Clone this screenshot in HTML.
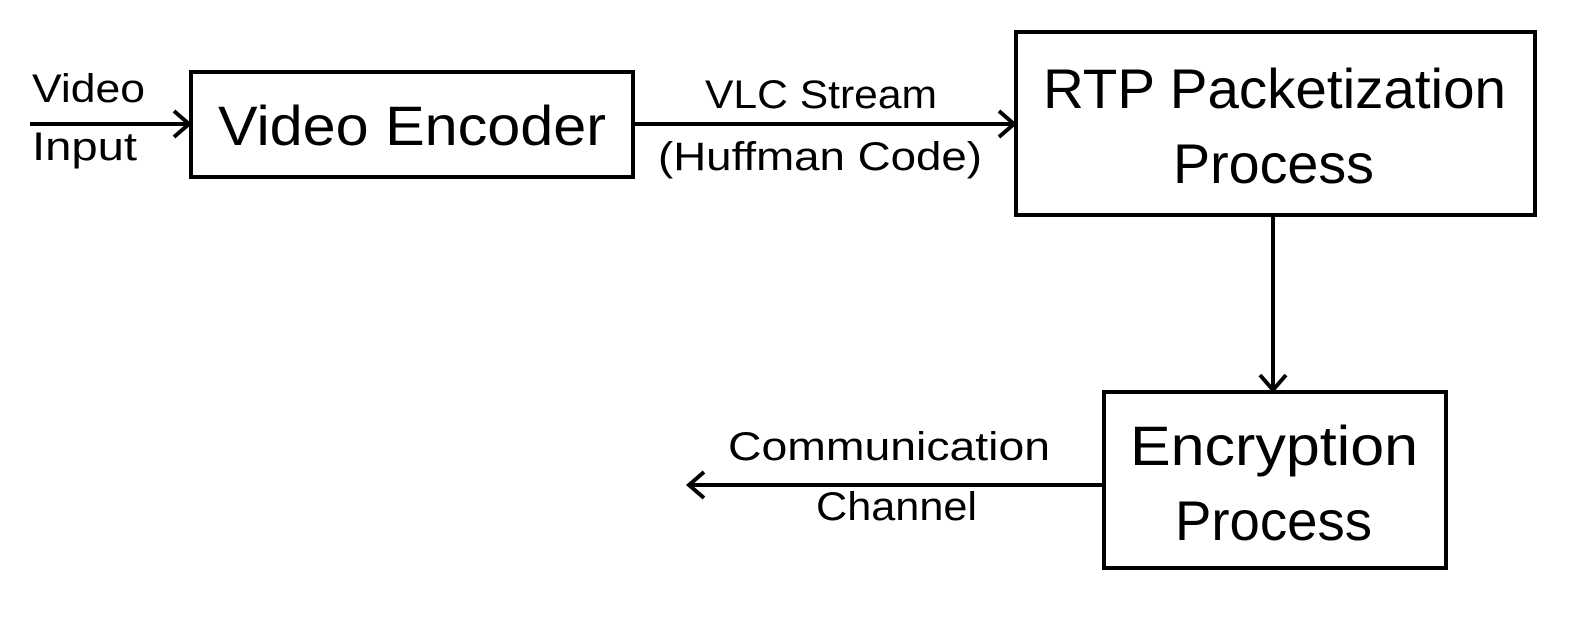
<!DOCTYPE html>
<html><head><meta charset="utf-8"><style>html,body{margin:0;padding:0;background:#fff}svg{display:block}</style></head>
<body>
<svg width="1595" height="620" viewBox="0 0 1595 620" xmlns="http://www.w3.org/2000/svg" font-family="'Liberation Sans', sans-serif" fill="#000">
<g fill="none" stroke="#000" stroke-width="4">
<rect x="191" y="72" width="442" height="105"/>
<rect x="1016" y="32" width="519" height="183"/>
<rect x="1104" y="392" width="342" height="176"/>
<line x1="30" y1="124" x2="189" y2="124"/>
<polyline points="174,111 189,124 174,137"/>
<line x1="633" y1="124" x2="1014" y2="124"/>
<polyline points="999,111 1014,124 999,137"/>
<line x1="1273" y1="215" x2="1273" y2="390"/>
<polyline points="1260,375 1273,390 1286,375"/>
<line x1="1104" y1="485" x2="689" y2="485"/>
<polyline points="704,472 689,485 704,498"/>
</g>
<g font-size="40">
<text x="32" y="102" textLength="113" lengthAdjust="spacingAndGlyphs">Video</text>
<text x="32" y="160" textLength="105" lengthAdjust="spacingAndGlyphs">Input</text>
<text x="705" y="108" textLength="232" lengthAdjust="spacingAndGlyphs">VLC Stream</text>
<text x="658" y="170" textLength="324" lengthAdjust="spacingAndGlyphs">(Huffman Code)</text>
<text x="728" y="460" textLength="322" lengthAdjust="spacingAndGlyphs">Communication</text>
<text x="816" y="520" textLength="161" lengthAdjust="spacingAndGlyphs">Channel</text>
</g>
<g font-size="56">
<text x="218" y="145" textLength="388" lengthAdjust="spacingAndGlyphs">Video Encoder</text>
<text x="1043" y="108" textLength="463" lengthAdjust="spacingAndGlyphs">RTP Packetization</text>
<text x="1173" y="183" textLength="201" lengthAdjust="spacingAndGlyphs">Process</text>
<text x="1130" y="465" textLength="288" lengthAdjust="spacingAndGlyphs">Encryption</text>
<text x="1175" y="540" textLength="197" lengthAdjust="spacingAndGlyphs">Process</text>
</g>
</svg>
</body></html>
